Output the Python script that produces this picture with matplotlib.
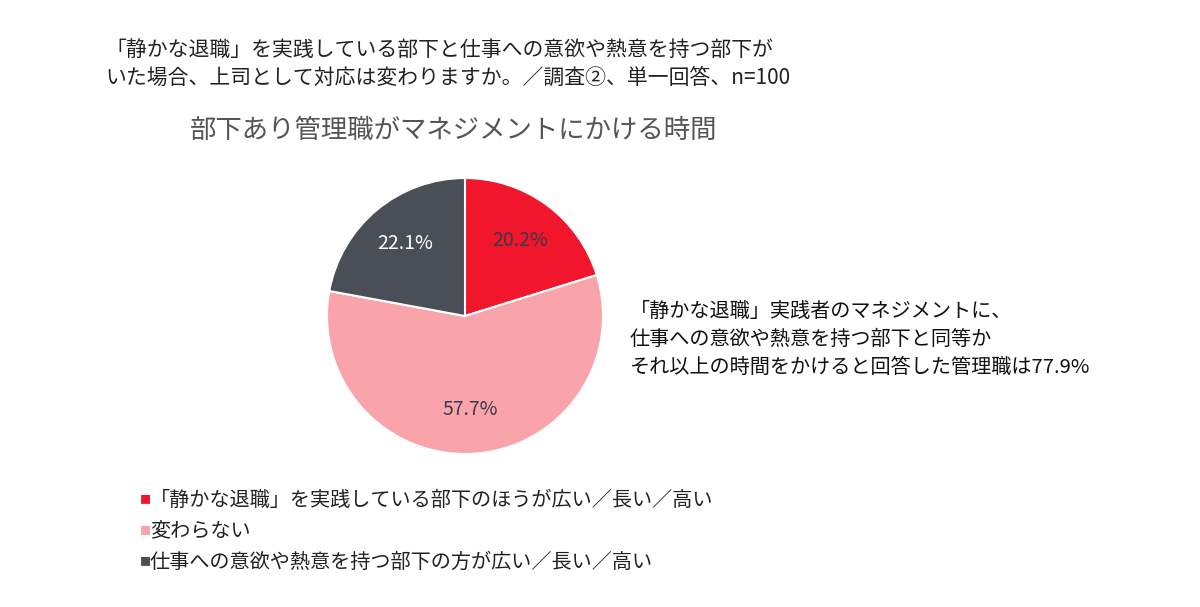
import matplotlib
matplotlib.use("Agg")
import matplotlib.pyplot as plt
plt.rcParams['font.family'] = 'Noto Sans CJK JP'

labels = ["「静かな退職」を実践している部下のほうが広い／長い／高い", "変わらない", "仕事への意欲や熱意を持つ部下の方が広い／長い／高い"]
values = [20.2, 57.7, 22.1]
colors = ["#F2162C", "#F9A4AB", "#4A4F57"]
label_colors = ["#3a3a4a", "#3a3a4a", "#ffffff"]

fig = plt.figure(figsize=(12, 6.07), dpi=100)
fig.text(105/1200, 1-50/607, "「静かな退職」を実践している部下と仕事への意欲や熱意を持つ部下が", fontsize=15, va='center', color='#222')
fig.text(105/1200, 1-78/607, "いた場合、上司として対応は変わりますか。／調査②、単一回答、n=100", fontsize=15, va='center', color='#222')
fig.text(190/1200, 1-130/607, "部下あり管理職がマネジメントにかける時間", fontsize=19, va='center', color='#555')

ax = fig.add_axes([(465-138)/1200, (607-316-138)/607, 276/1200, 276/607])
wedges, texts, autotexts = ax.pie(values, colors=colors, startangle=90, counterclock=False,
       autopct=lambda p: f"{p:.1f}%", pctdistance=0.68,
       textprops=dict(fontsize=14, color='#3a3a4a'),
       wedgeprops=dict(linewidth=1.5, edgecolor='white'))
for t, c in zip(autotexts, label_colors):
    t.set_color(c)
ax.set_xlim(-1, 1)
ax.set_ylim(-1, 1)
ax.set_aspect('equal')

for i, t in enumerate(["「静かな退職」実践者のマネジメントに、", "仕事への意欲や熱意を持つ部下と同等か", "それ以上の時間をかけると回答した管理職は77.9%"]):
    fig.text(630/1200, 1-(311+28*i)/607, t, fontsize=14.5, va='center', color='#111')

for i, (l, c) in enumerate(zip(labels, colors)):
    y = 1-(500+31*i)/607
    fig.text(140/1200, y, "■", fontsize=8, va='center', color=c)
    fig.text(150/1200, y, l, fontsize=14.5, va='center', color='#222')

fig.savefig("out.png", dpi=100)
